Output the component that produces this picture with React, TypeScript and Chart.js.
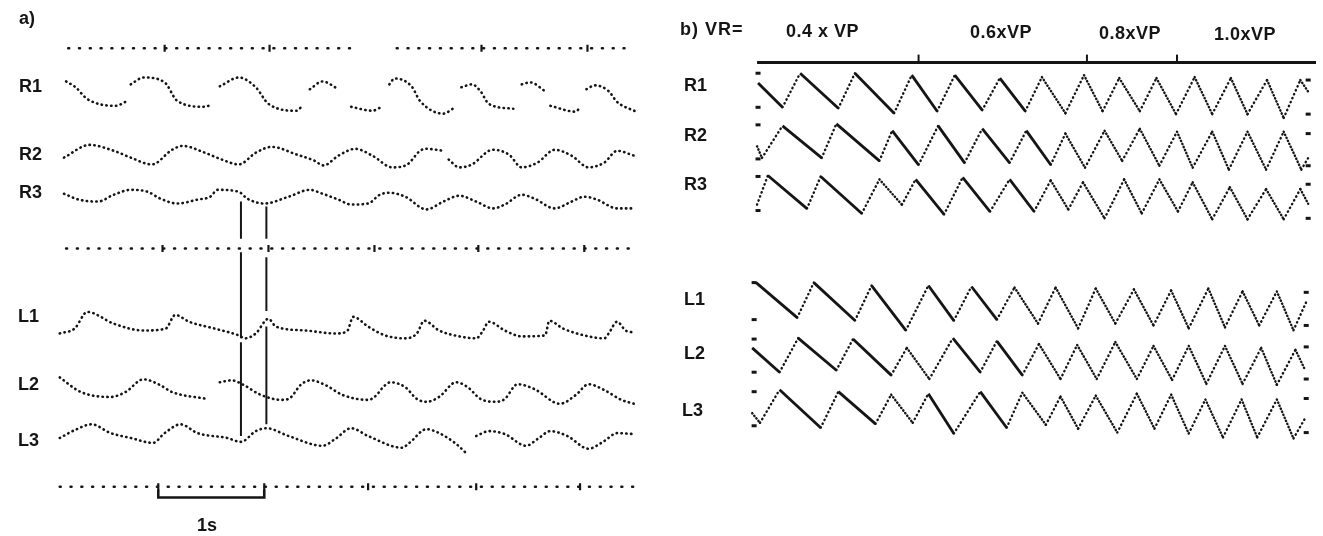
import { useEffect, useRef } from 'react';
import { Chart, registerables } from 'chart.js';

Chart.register(...registerables);

type Pt = [number, number | null];

const INK = '#151515';

// ---------------- panel a : time in seconds, deflection (up = positive) ----------------
const TIME_MARK_TOP: number[] = [1.06, 2.05, 4.05, 5.05];
const TIME_MARK_MID: number[] = [1.04, 2.04, 3.04, 4.02, 5.02];
const TIME_MARK_BOTTOM: number[] = [1.0, 2.0, 2.98, 4.0, 4.98];
const TIME_SPAN_TOP: number[][] = [[0.15, 2.9], [3.25, 5.45]];
const TIME_SPAN_MID: number[][] = [[0.13, 5.49]];
const TIME_SPAN_BOTTOM: number[][] = [[0.07, 5.49]];
const SCALE_BAR_S: number[] = [1.0, 2.0];
const CURSOR_S: number[] = [1.78, 2.02];

const A_R1: Pt[] = [
  [0.13, 13], [0.22, 7], [0.33, -5], [0.6, -12], [0.69, -8], [0.71, null],
  [0.74, 10], [0.86, 17], [1.06, 12], [1.18, -7], [1.44, -13], [1.51, -10], [1.54, null],
  [1.58, 8], [1.76, 17], [1.92, 7], [2.04, -10], [2.31, -17], [2.35, -13], [2.39, null],
  [2.43, 5], [2.55, 13], [2.7, 5], [2.76, null],
  [2.82, -13], [3.02, -17], [3.11, -13], [3.14, null],
  [3.18, 10], [3.23, 16], [3.39, 8], [3.47, -7], [3.69, -20], [3.78, -15], [3.82, null],
  [3.86, 7], [3.96, 10], [4.04, 3], [4.12, -10], [4.35, -15], [4.39, null],
  [4.43, 10], [4.51, 12], [4.65, 3], [4.67, null],
  [4.7, -12], [4.94, -18], [4.97, -15], [5.0, null],
  [5.04, 5], [5.12, 9], [5.25, 3], [5.33, -8], [5.51, -18],
];
const A_R2: Pt[] = [
  [0.11, -2], [0.35, 11], [0.58, 5], [0.74, -2], [0.94, -9], [1.13, 6], [1.23, 10], [1.44, 3],
  [1.6, -4], [1.76, -9], [1.92, 3], [2.07, 9], [2.31, 1], [2.47, -5], [2.56, -10], [2.7, 0],
  [2.86, 7], [3.02, 0], [3.21, -12], [3.35, -9], [3.47, 5], [3.53, 7], [3.69, 5], [3.71, null],
  [3.74, -4], [3.84, -12], [3.96, -9], [4.12, 5], [4.16, 6], [4.31, 1], [4.43, -12], [4.58, -7],
  [4.74, 6], [4.9, 0], [5.06, -12], [5.21, -7], [5.33, 5], [5.49, 0],
];
const A_R3: Pt[] = [
  [0.11, 6], [0.25, 0], [0.43, -2], [0.58, 5], [0.74, 10], [0.9, 8], [1.02, 1], [1.18, -4],
  [1.37, 0], [1.49, 3], [1.56, 10], [1.76, 8], [1.84, 1], [2.0, -4], [2.23, 3], [2.43, 10],
  [2.55, 6], [2.7, 0], [2.82, -5], [2.98, -4], [3.09, 5], [3.18, 7], [3.33, 3], [3.53, -10],
  [3.69, -2], [3.84, 4], [4.0, -2], [4.16, -9], [4.27, -5], [4.43, 5], [4.55, 1], [4.74, -9],
  [4.9, -2], [5.02, 3], [5.14, 0], [5.33, -9], [5.49, -9],
];
const A_L1: Pt[] = [
  [0.07, -7], [0.21, -2], [0.33, 15], [0.58, 3], [0.86, -4], [1.07, -2], [1.16, 12], [1.29, 5],
  [1.53, -2], [1.76, -9], [1.82, -12], [1.92, -7], [2.04, 8], [2.11, 0], [2.39, -4], [2.67, -7],
  [2.78, -5], [2.84, 10], [2.98, 0], [3.14, -9], [3.33, -12], [3.44, -7], [3.51, 6], [3.65, -4],
  [3.84, -10], [4.0, -12], [4.06, -5], [4.12, 5], [4.27, -4], [4.43, -10], [4.65, -9], [4.69, 6],
  [4.82, -2], [5.06, -10], [5.21, -12], [5.25, -7], [5.33, 5], [5.41, -4], [5.49, -6],
];
const A_L2: Pt[] = [
  [0.07, 13], [0.27, -2], [0.55, -7], [0.69, -2], [0.86, 11], [1.02, 5], [1.13, -2], [1.46, -9], [1.52, null],
  [1.58, 8], [1.69, 10], [1.81, 5], [1.95, -4], [2.16, -10], [2.23, -9], [2.35, 6], [2.44, 10],
  [2.58, 5], [2.74, -5], [2.98, -10], [3.04, -7], [3.14, 5], [3.19, 8], [3.33, 3], [3.44, -9],
  [3.53, -12], [3.65, -7], [3.81, 8], [3.92, 3], [4.04, -9], [4.19, -12], [4.27, -9], [4.39, 6],
  [4.55, 1], [4.79, -14], [4.94, -5], [5.06, 6], [5.21, 0], [5.37, -10], [5.49, -14],
];
const A_L3: Pt[] = [
  [0.07, -2], [0.23, 7], [0.37, 12], [0.55, 3], [0.74, -2], [0.95, -7], [1.06, 3], [1.21, 12],
  [1.37, 3], [1.65, -2], [1.78, -6], [1.92, 5], [2.02, 8], [2.23, 0], [2.55, -10], [2.67, -3],
  [2.82, 8], [2.98, 0], [3.3, -12], [3.37, -7], [3.53, 7], [3.65, 3], [3.81, -8], [3.9, -17], [3.95, null],
  [4.0, 0], [4.12, 5], [4.27, 2], [4.47, -10], [4.58, -3], [4.7, 5], [4.86, 0], [5.06, -13],
  [5.21, -5], [5.33, 3], [5.49, 2],
];

// ---------------- panel b : time (arbitrary units), deflection (up = positive) ----------------
const VR_LABELS: string[] = ['0.4 x VP', '0.6xVP', '0.8xVP', '1.0xVP'];
const VR_BOUNDARIES: number[] = [165, 337, 429];
const VR_AXIS_SPAN: number[] = [0, 571];

const B_R1: Pt[] = [
  [1, 8], [26, -17], [44, 18], [83, -18], [100, 18], [140, -23], [158, 16], [184, -21], [202, 16],
  [230, -20], [248, 13], [274, -21], [291, 14], [315, -23], [334, 16], [353, -21], [370, 13],
  [391, -21], [408, 13], [428, -24], [447, 14], [465, -24], [484, 13], [501, -24], [521, 11],
  [538, -28], [555, 11], [563, -1],
];
const B_R2: Pt[] = [
  [0, -5], [5, -17], [26, 16], [66, -17], [81, 18], [125, -20], [138, 11], [165, -24], [185, 16],
  [212, -22], [230, 13], [258, -22], [275, 11], [300, -24], [315, 8], [335, -27], [355, 11],
  [373, -20], [391, 13], [411, -25], [429, 10], [445, -27], [465, 10], [482, -29], [501, 10],
  [520, -29], [538, 10], [556, -29], [563, -17],
];
const B_R3: Pt[] = [
  [0, -11], [11, 19], [51, -15], [65, 18], [107, -20], [125, 15], [148, -11], [162, 15], [191, -21],
  [210, 17], [238, -18], [258, 15], [283, -18], [300, 14], [318, -16], [333, 12], [355, -25],
  [375, 15], [393, -20], [411, 15], [430, -18], [445, 12], [465, -26], [483, 7], [501, -26],
  [520, 5], [538, -26], [555, 5], [563, -10],
];
const B_L1: Pt[] = [
  [-1, 19], [41, -17], [58, 19], [100, -20], [117, 16], [152, -30], [175, 16], [201, -20], [219, 15],
  [245, -19], [263, 14], [287, -23], [305, 14], [328, -28], [346, 13], [366, -23], [385, 12],
  [405, -25], [423, 11], [441, -28], [461, 13], [478, -27], [496, 10], [513, -25], [531, 10],
  [548, -30], [561, -1],
];
const B_L2: Pt[] = [
  [-5, 8], [23, -17], [42, 18], [81, -15], [98, 17], [137, -20], [153, 8], [176, -24], [200, 18],
  [228, -17], [245, 15], [271, -20], [288, 12], [310, -24], [327, 11], [347, -24], [366, 14],
  [388, -24], [405, 10], [424, -25], [441, 10], [459, -29], [478, 10], [496, -29], [515, 8],
  [531, -30], [550, 6], [560, -15],
];
const B_L3: Pt[] = [
  [-5, -4], [3, -14], [23, 20], [65, -19], [83, 18], [121, -15], [137, 15], [159, -14], [175, 16],
  [201, -25], [228, 18], [255, -19], [271, 17], [295, -16], [310, 13], [328, -20], [346, 14],
  [368, -24], [388, 16], [406, -20], [423, 15], [441, -25], [458, 10], [476, -29], [495, 10],
  [511, -29], [531, 10], [548, -30], [560, -9],
];
const B_R1_MARKS: Pt[] = [[1, 18], [1, -17], [563, 11], [563, -24]];
const B_R2_MARKS: Pt[] = [[1, 17], [1, -18], [563, 8], [563, -25]];
const B_R3_MARKS: Pt[] = [[1, 18], [1, -17], [563, 10], [563, -25]];
const B_L1_MARKS: Pt[] = [[-3, 19], [-3, -19], [561, 9], [561, -25]];
const B_L2_MARKS: Pt[] = [[-3, 17], [-3, -17], [561, 9], [561, -24]];
const B_L3_MARKS: Pt[] = [[-3, 18], [-3, -17], [561, 11], [561, -24]];

// ---------------- layout (pixels) ----------------
const W = 1323;
const H = 536;
const SPLIT = 660;
const A_T0_PX = 47;
const A_PX_PER_S = 108;
const B_X0_PX = 752;
const ROW_A = { top: 43, R1: 90, R2: 153, R3: 198, mid: 248, L1: 328, L2: 393, L3: 440, bottom: 492, bar: 503 };
const ROW_B = { axis: 57, R1: 86, R2: 138, R3: 192, L1: 302, L2: 358, L3: 413 };
const CURSOR_Y: number[][][] = [
  [[200, 238], [252, 340], [344, 440]],
  [[205, 238], [257, 312], [328, 428]],
];

const toXY = (pts: Pt[], base: number) =>
  pts.map(([x, a]) => ({ x, y: a === null ? null : base - a }));

function traceA(pts: Pt[], base: number) {
  return {
    data: toXY(pts, base),
    borderColor: INK,
    borderWidth: 2.6,
    borderDash: [0.4, 4.4],
    borderCapStyle: 'round',
    cubicInterpolationMode: 'monotone',
    pointRadius: 0,
    spanGaps: false,
    fill: false,
  };
}

function timeLine(spans: number[][], marks: number[], y: number) {
  const data: any[] = [];
  spans.forEach(([s, e], i) => {
    if (i > 0) data.push({ x: (spans[i - 1][1] + s) / 2, y: null });
    data.push({ x: s, y }, { x: e, y });
  });
  return [
    {
      data,
      borderColor: INK,
      borderWidth: 2.5,
      borderDash: [1, 9.8],
      borderCapStyle: 'round',
      pointRadius: 0,
      spanGaps: false,
    },
    {
      data: marks.map((x) => ({ x, y })),
      showLine: false,
      pointStyle: 'line',
      pointRotation: 90,
      pointRadius: 3.5,
      pointBorderWidth: 2.2,
      pointBorderColor: INK,
    },
  ];
}

const isSlowFall = (ctx: any) =>
  ctx.p1.parsed.y - ctx.p0.parsed.y > 0 && ctx.p1.parsed.x - ctx.p0.parsed.x >= 25;

function traceB(pts: Pt[], base: number) {
  return {
    data: toXY(pts, base),
    borderColor: INK,
    borderWidth: 2.4,
    pointRadius: 0,
    tension: 0,
    borderCapStyle: 'round',
    segment: {
      borderDash: (ctx: any) => {
        const falling = ctx.p1.parsed.y - ctx.p0.parsed.y > 0;
        if (isSlowFall(ctx)) return [];
        return falling ? [0.4, 2.9] : [0.4, 3.9];
      },
      borderCapStyle: (ctx: any) => (isSlowFall(ctx) ? 'butt' : 'round'),
      borderWidth: (ctx: any) => (isSlowFall(ctx) ? 2.8 : 2.4),
    },
  };
}

function marksB(pts: Pt[], base: number) {
  return {
    data: toXY(pts, base),
    showLine: false,
    pointStyle: 'line',
    pointRadius: 2.5,
    pointBorderWidth: 3,
    pointBorderColor: INK,
  };
}

function baseOptions(xmin: number, xmax: number) {
  return {
    animation: false,
    responsive: false,
    maintainAspectRatio: false,
    events: [],
    layout: { padding: 0 },
    plugins: { legend: { display: false }, tooltip: { enabled: false }, title: { display: false } },
    scales: {
      x: { type: 'linear', display: false, min: xmin, max: xmax },
      y: { type: 'linear', display: false, min: 0, max: H, reverse: true },
    },
    elements: { point: { radius: 0 } },
  };
}

function configA(): any {
  const cursor = CURSOR_S.map((t, i) => {
    const data: any[] = [];
    CURSOR_Y[i].forEach(([y0, y1], k) => {
      if (k > 0) data.push({ x: t, y: null });
      data.push({ x: t, y: y0 }, { x: t, y: y1 });
    });
    return { data, borderColor: INK, borderWidth: 2, pointRadius: 0, spanGaps: false };
  });
  const [b0, b1] = SCALE_BAR_S;
  const bar = {
    data: [
      { x: b0, y: ROW_A.bar - 8 }, { x: b0, y: ROW_A.bar },
      { x: b1, y: ROW_A.bar }, { x: b1, y: ROW_A.bar - 8 },
    ],
    borderColor: INK,
    borderWidth: 2.6,
    pointRadius: 0,
    borderJoinStyle: 'miter',
  };
  return {
    type: 'line',
    data: {
      datasets: [
        ...timeLine(TIME_SPAN_TOP, TIME_MARK_TOP, ROW_A.top),
        ...timeLine(TIME_SPAN_MID, TIME_MARK_MID, ROW_A.mid),
        ...timeLine(TIME_SPAN_BOTTOM, TIME_MARK_BOTTOM, ROW_A.bottom),
        traceA(A_R1, ROW_A.R1),
        traceA(A_R2, ROW_A.R2),
        traceA(A_R3, ROW_A.R3),
        traceA(A_L1, ROW_A.L1),
        traceA(A_L2, ROW_A.L2),
        traceA(A_L3, ROW_A.L3),
        ...cursor,
        bar,
      ],
    },
    options: baseOptions(-A_T0_PX / A_PX_PER_S, (SPLIT - A_T0_PX) / A_PX_PER_S),
  };
}

function configB(): any {
  const axis = {
    data: VR_AXIS_SPAN.map((x) => ({ x, y: ROW_B.axis })),
    borderColor: INK,
    borderWidth: 3,
    pointRadius: 0,
    clip: false,
  };
  const ticks = {
    data: VR_BOUNDARIES.map((x) => ({ x, y: ROW_B.axis - 4 })),
    showLine: false,
    pointStyle: 'line',
    pointRotation: 90,
    pointRadius: 4,
    pointBorderWidth: 2,
    pointBorderColor: INK,
  };
  return {
    type: 'line',
    data: {
      datasets: [
        axis,
        ticks,
        traceB(B_R1, ROW_B.R1), marksB(B_R1_MARKS, ROW_B.R1),
        traceB(B_R2, ROW_B.R2), marksB(B_R2_MARKS, ROW_B.R2),
        traceB(B_R3, ROW_B.R3), marksB(B_R3_MARKS, ROW_B.R3),
        traceB(B_L1, ROW_B.L1), marksB(B_L1_MARKS, ROW_B.L1),
        traceB(B_L2, ROW_B.L2), marksB(B_L2_MARKS, ROW_B.L2),
        traceB(B_L3, ROW_B.L3), marksB(B_L3_MARKS, ROW_B.L3),
      ],
    },
    options: baseOptions(SPLIT - B_X0_PX, W - B_X0_PX),
  };
}

const FONT = '"Liberation Sans", Arial, Helvetica, sans-serif';

function Label({ text, x, y, size = 18, spacing = 0 }: { text: string; x: number; y: number; size?: number; spacing?: number }) {
  return (
    <div
      style={{
        position: 'absolute',
        left: x,
        top: y - size * 0.5,
        fontFamily: FONT,
        fontWeight: 700,
        fontSize: size,
        lineHeight: `${size}px`,
        letterSpacing: spacing,
        color: INK,
        whiteSpace: 'pre',
      }}
    >
      {text}
    </div>
  );
}

export default function App() {
  const refA = useRef<HTMLCanvasElement>(null);
  const refB = useRef<HTMLCanvasElement>(null);

  useEffect(() => {
    const a = new Chart(refA.current as HTMLCanvasElement, configA());
    const b = new Chart(refB.current as HTMLCanvasElement, configB());
    return () => {
      a.destroy();
      b.destroy();
    };
  }, []);

  const vrX = [786, 970, 1099, 1214];
  const vrY = [31, 32, 33, 34];

  return (
    <div style={{ position: 'fixed', left: 0, top: 0, width: W, height: H, background: '#fff', overflow: 'hidden' }}>
      <canvas ref={refA} width={SPLIT} height={H} style={{ position: 'absolute', left: 0, top: 0, display: 'block' }} />
      <canvas ref={refB} width={W - SPLIT} height={H} style={{ position: 'absolute', left: SPLIT, top: 0, display: 'block' }} />

      <Label text="a)" x={19} y={18} />
      <Label text="R1" x={19} y={86} />
      <Label text="R2" x={19} y={154} />
      <Label text="R3" x={19} y={192} />
      <Label text="L1" x={18} y={316} />
      <Label text="L2" x={18} y={384} />
      <Label text="L3" x={18} y={440} />
      <Label text="1s" x={197} y={525} />

      <Label text="b) VR=" x={680} y={29} spacing={1} />
      {VR_LABELS.map((t, i) => (
        <Label key={t} text={t} x={vrX[i]} y={vrY[i]} spacing={0.5} />
      ))}
      <Label text="R1" x={684} y={85} />
      <Label text="R2" x={684} y={135} />
      <Label text="R3" x={684} y={184} />
      <Label text="L1" x={684} y={299} />
      <Label text="L2" x={684} y={353} />
      <Label text="L3" x={682} y={410} />
    </div>
  );
}
